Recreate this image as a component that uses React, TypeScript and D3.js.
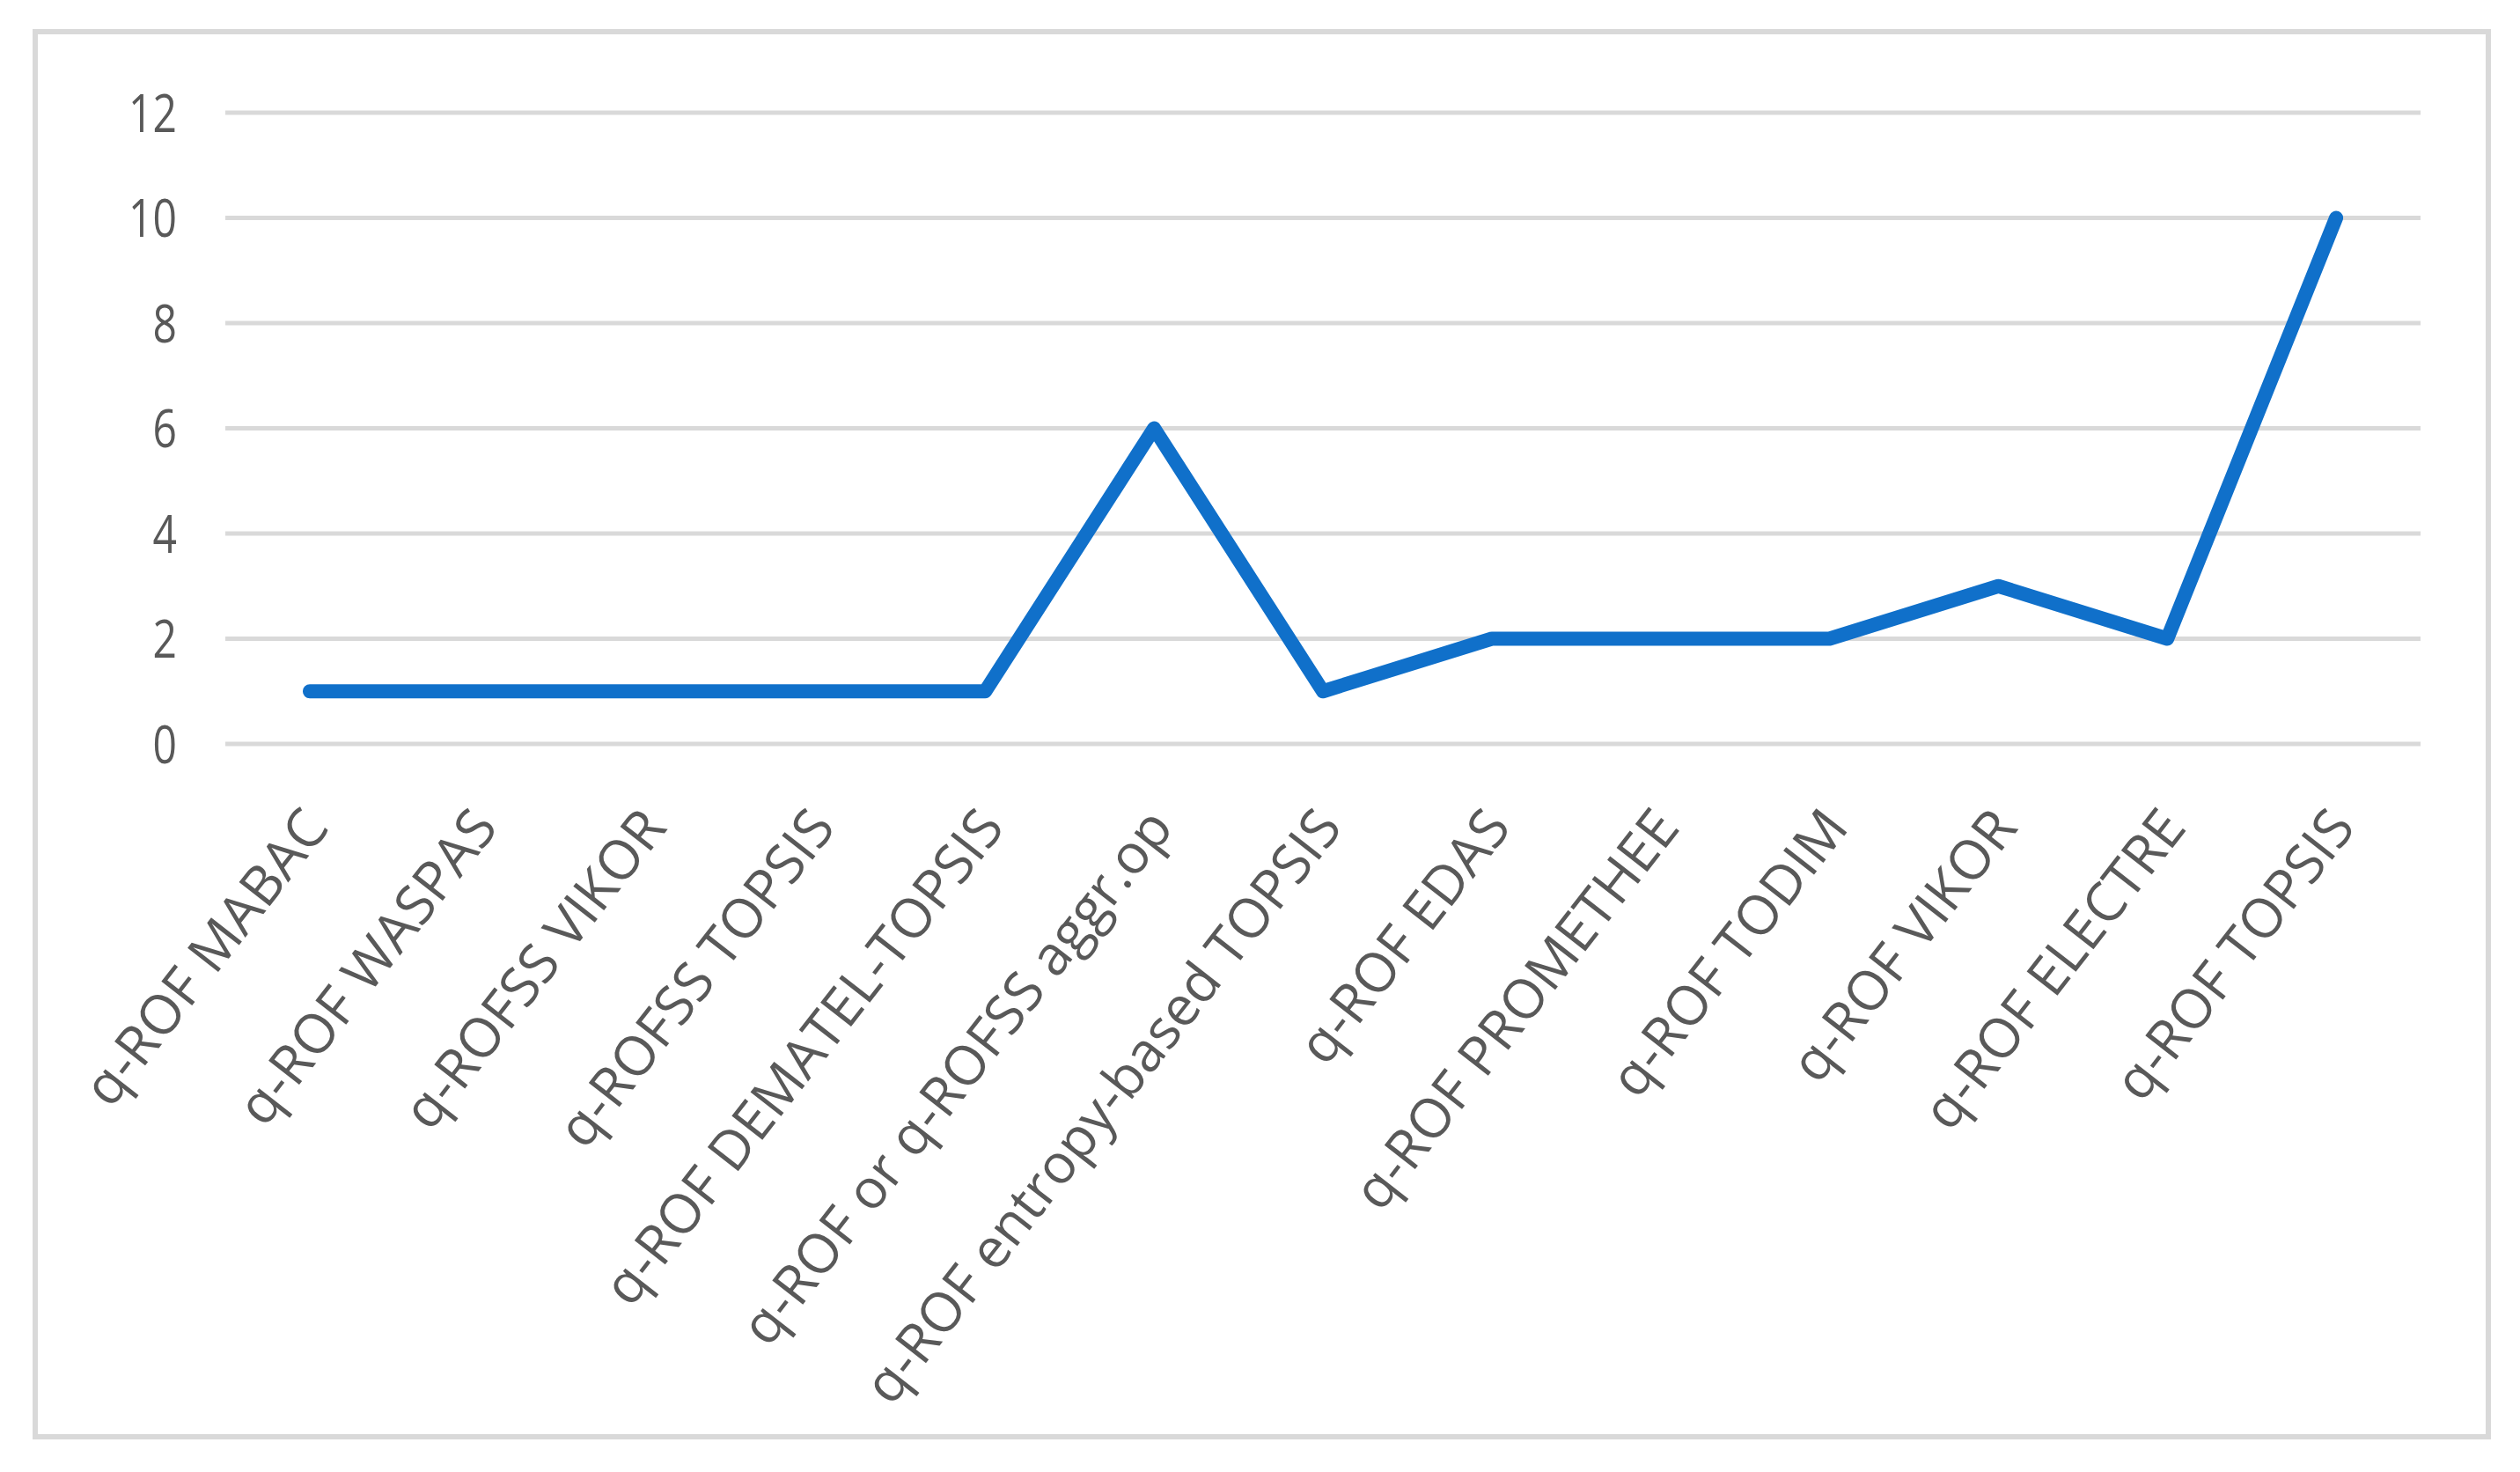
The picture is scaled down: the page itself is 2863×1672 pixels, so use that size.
import React, { useRef, useEffect } from "react";
import { select, scaleLinear, scalePoint, line, range } from "d3";

const methods = [
  "q-ROF MABAC",
  "q-ROF WASPAS",
  "q-ROFSS VIKOR",
  "q-ROFSS TOPSIS",
  "q-ROF DEMATEL-TOPSIS",
  "q-ROF or q-ROFSS aggr.op",
  "q-ROF entropy-based TOPSIS",
  "q-ROF EDAS",
  "q-ROF PROMETHEE",
  "q-ROF TODIM",
  "q-ROF VIKOR",
  "q-ROF ELECTRE",
  "q-ROF TOPSIS",
];
const counts = [1, 1, 1, 1, 1, 6, 1, 2, 2, 2, 3, 2, 10];
const yTicks = [0, 2, 4, 6, 8, 10, 12];

const W = 2863;
const H = 1672;
// picture looks vertically stretched, so the y labels are too
const stretch = 1.26;

function LineChart() {
  const svgRef = useRef(null);

  useEffect(() => {
    const svg = select(svgRef.current);
    svg.selectAll("*").remove();

    const plot = { left: 256, right: 2750, top: 128, bottom: 845 };

    const x = scalePoint()
      .domain(range(methods.length))
      .range([plot.left, plot.right])
      .padding(0.5);

    const y = scaleLinear().domain([0, 12]).range([plot.bottom, plot.top]);

    // outer frame
    svg
      .append("rect")
      .attr("x", 40)
      .attr("y", 36)
      .attr("width", 2787)
      .attr("height", 1596)
      .attr("fill", "#ffffff")
      .attr("stroke", "#d9d9d9")
      .attr("stroke-width", 6);

    // gridlines
    svg
      .selectAll(".grid")
      .data(yTicks)
      .join("line")
      .attr("class", "grid")
      .attr("x1", plot.left)
      .attr("x2", plot.right)
      .attr("y1", d => y(d))
      .attr("y2", d => y(d))
      .attr("stroke", "#d9d9d9")
      .attr("stroke-width", 5);

    // y labels
    svg
      .selectAll(".ylabel")
      .data(yTicks)
      .join("text")
      .attr("class", "ylabel")
      .attr("transform", d => `translate(201,${y(d)}) scale(1,${stretch})`)
      .attr("dy", "0.36em")
      .attr("text-anchor", "end")
      .attr("font-family", "'Open Sans', sans-serif")
      .attr("font-size", 48)
      .attr("fill", "#595959")
      .text(d => d);

    // x labels, rotated
    svg
      .selectAll(".xlabel")
      .data(methods)
      .join("text")
      .attr("class", "xlabel")
      .attr(
        "transform",
        (d, i) => `translate(${x(i) + 6},${plot.bottom + 82}) rotate(-52)`
      )
      .attr("dy", "0.36em")
      .attr("text-anchor", "end")
      .attr("font-family", "'Open Sans', sans-serif")
      .attr("font-size", 62)
      .attr("fill", "#595959")
      .text(d => d);

    // the series line
    const path = line()
      .x((d, i) => x(i))
      .y(d => y(d));

    svg
      .append("path")
      .datum(counts)
      .attr("d", path)
      .attr("fill", "none")
      .attr("stroke", "#1070ca")
      .attr("stroke-width", 16)
      .attr("stroke-linejoin", "round")
      .attr("stroke-linecap", "round");
  }, []);

  return <svg ref={svgRef} width={W} height={H} style={{ display: "block" }}></svg>;
}

export default function App() {
  return (
    <div style={{ position: "absolute", left: 0, top: 0, background: "#fff" }}>
      <LineChart />
    </div>
  );
}
